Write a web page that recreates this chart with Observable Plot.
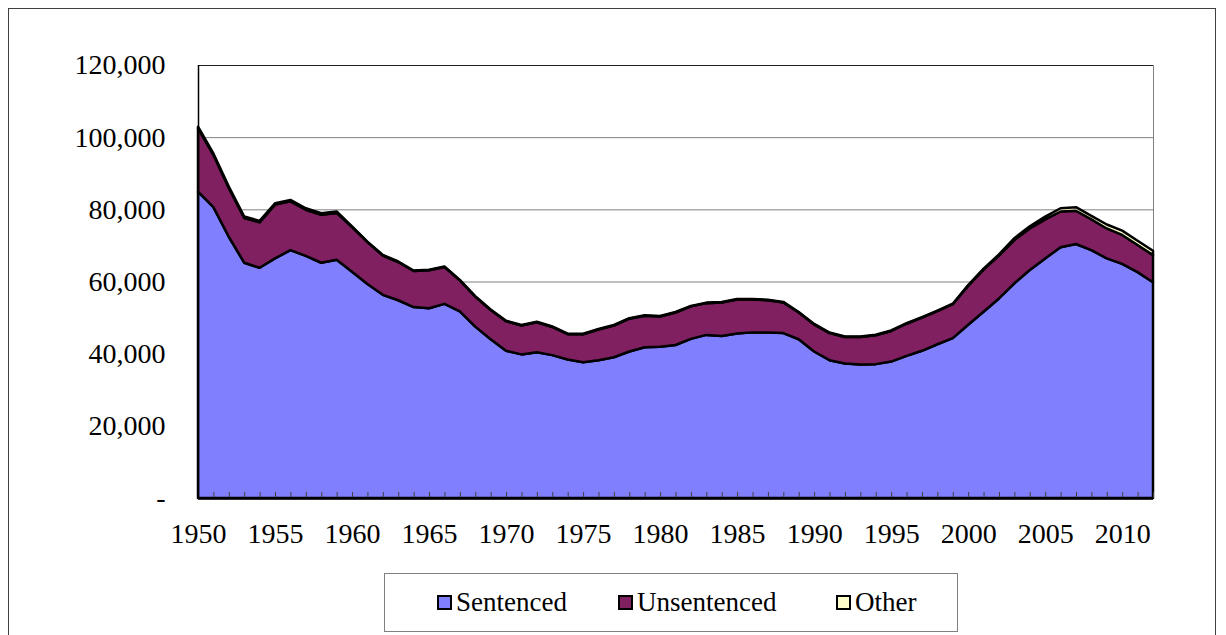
<!DOCTYPE html>
<html>
<head>
<meta charset="utf-8">
<script src="https://cdn.jsdelivr.net/npm/d3@7"></script>
<script src="https://cdn.jsdelivr.net/npm/@observablehq/plot@0.6"></script>
<style>
  html, body { margin: 0; padding: 0; background: #fff; }
  body { width: 1226px; height: 635px; position: relative; overflow: hidden; font-family: "Liberation Serif", Tinos, "Times New Roman", "DejaVu Serif", serif; }
  #frame { position: absolute; left: 8px; top: 8px; width: 1208px; height: 660px; border: 1px solid #404040; box-sizing: border-box; }
  #chart { position: absolute; left: 0; top: 0; }
  #chart svg text { font-family: "Liberation Serif", Tinos, "Times New Roman", "DejaVu Serif", serif; }
  #legend { position: absolute; left: 384px; top: 573px; width: 574px; height: 59px; border: 1px solid #808080; box-sizing: border-box; background: #fff; }
  .item { position: absolute; top: 0; height: 57px; display: flex; align-items: center; font-size: 27px; color: #000; font-family: "Liberation Serif", Tinos, "Times New Roman", "DejaVu Serif", serif; }
  .sw { width: 11px; height: 11px; border: 2px solid #000; margin-right: 4px; }
</style>
</head>
<body>
<div id="frame"></div>
<div id="chart"></div>
<div id="legend"></div>
<script>
const years = d3.range(1950, 2013);
const seriesNames = ["Sentenced", "Unsentenced", "Other"];
const seriesColors = ["#8080FF", "#802060", "#FFFFCC"];
const sentenced = [
  84900, 80600, 72400, 65200, 63800, 66400, 68700, 67100, 65200, 66000,
  62700, 59300, 56300, 54800, 52900, 52600, 53800, 51700, 47500, 44000,
  40800, 39800, 40400, 39600, 38400, 37600, 38200, 39000, 40600, 41800,
  41900, 42400, 44100, 45200, 44900, 45600, 45900, 45900, 45700, 44000,
  40600, 38200, 37300, 37000, 37100, 37800, 39400, 40800, 42600, 44300,
  48000, 51600, 55300, 59500, 63200, 66400, 69500, 70400, 68700, 66400,
  64900, 62600, 59800
];
const unsentenced = [
  17600, 14500, 13500, 12400, 12600, 14900, 13500, 12800, 13300, 13000,
  12400, 11600, 10900, 10600, 10000, 10500, 10200, 8600, 8300, 8100,
  8200, 8000, 8300, 7800, 7000, 7800, 8500, 8800, 9100, 8700,
  8400, 9000, 9000, 8800, 9300, 9400, 9100, 8900, 8500, 7400,
  7500, 7500, 7300, 7600, 8000, 8500, 8900, 9200, 9200, 9400,
  10800, 11700, 11900, 12000, 11500, 10800, 9900, 9200, 8500, 8300,
  8000, 7500, 7500
];
const other = [
  400, 400, 400, 400, 400, 400, 400, 400, 400, 400,
  150, 150, 150, 150, 150, 150, 150, 150, 150, 150,
  150, 150, 150, 150, 150, 150, 150, 150, 150, 150,
  150, 150, 150, 150, 150, 150, 150, 150, 150, 150,
  150, 150, 150, 150, 150, 150, 150, 150, 150, 150,
  200, 250, 300, 500, 600, 800, 900, 1000, 1000, 1100,
  1200, 1200, 1200
];
const yTicks = [0, 20000, 40000, 60000, 80000, 100000, 120000];
const xTicks = [1950, 1955, 1960, 1965, 1970, 1975, 1980, 1985, 1990, 1995, 2000, 2005, 2010];

const seriesValues = [sentenced, unsentenced, other];
const data = [];
seriesNames.forEach((s, k) => {
  years.forEach((yr, i) => data.push({year: yr, series: s, value: seriesValues[k][i]}));
});

const font = "'Liberation Serif', Tinos, 'Times New Roman', 'DejaVu Serif', serif";
const chart = Plot.plot({
  width: 1226,
  height: 560,
  marginTop: 65,
  marginBottom: 62,
  marginLeft: 198,
  marginRight: 73,
  style: {fontFamily: font, background: "transparent", color: "#000"},
  x: {domain: [1950, 2012]},
  y: {domain: [0, 120000]},
  color: {domain: seriesNames, range: seriesColors},
  marks: [
    Plot.ruleY(yTicks.slice(1, -1), {stroke: "#808080", strokeWidth: 1}),
    Plot.frame({stroke: "#808080"}),
    Plot.ruleY([120000], {stroke: "#222", strokeWidth: 1}),
    Plot.areaY(data, {
      x: "year", y: "value", z: "series", fill: "series",
      stroke: "black", strokeWidth: 2.5, strokeLinejoin: "round"
    }),
    Plot.ruleX(years, {x: d => d, y1: 0, y2: 1700, stroke: "#404040", strokeWidth: 1}),
    Plot.ruleX([1950], {stroke: "black", strokeWidth: 1.5}),
    Plot.ruleY([0], {stroke: "black", strokeWidth: 2.5}),
    Plot.axisY({
      ticks: yTicks, tickSize: 0, tickPadding: 33, fontSize: 28,
      tickFormat: d => d === 0 ? "-" : d3.format(",")(d), label: null
    }),
    Plot.axisX({
      ticks: xTicks, tickSize: 0, tickPadding: 25, fontSize: 28,
      tickFormat: d => String(d), label: null
    })
  ]
});
document.getElementById("chart").appendChild(chart);

const legend = document.getElementById("legend");
const itemLeft = [52, 233, 451];
seriesNames.forEach((s, k) => {
  const it = document.createElement("div");
  it.className = "item";
  it.style.left = itemLeft[k] + "px";
  const sw = document.createElement("div");
  sw.className = "sw";
  sw.style.background = seriesColors[k];
  const t = document.createElement("span");
  t.textContent = s;
  it.appendChild(sw);
  it.appendChild(t);
  legend.appendChild(it);
});
</script>
</body>
</html>
